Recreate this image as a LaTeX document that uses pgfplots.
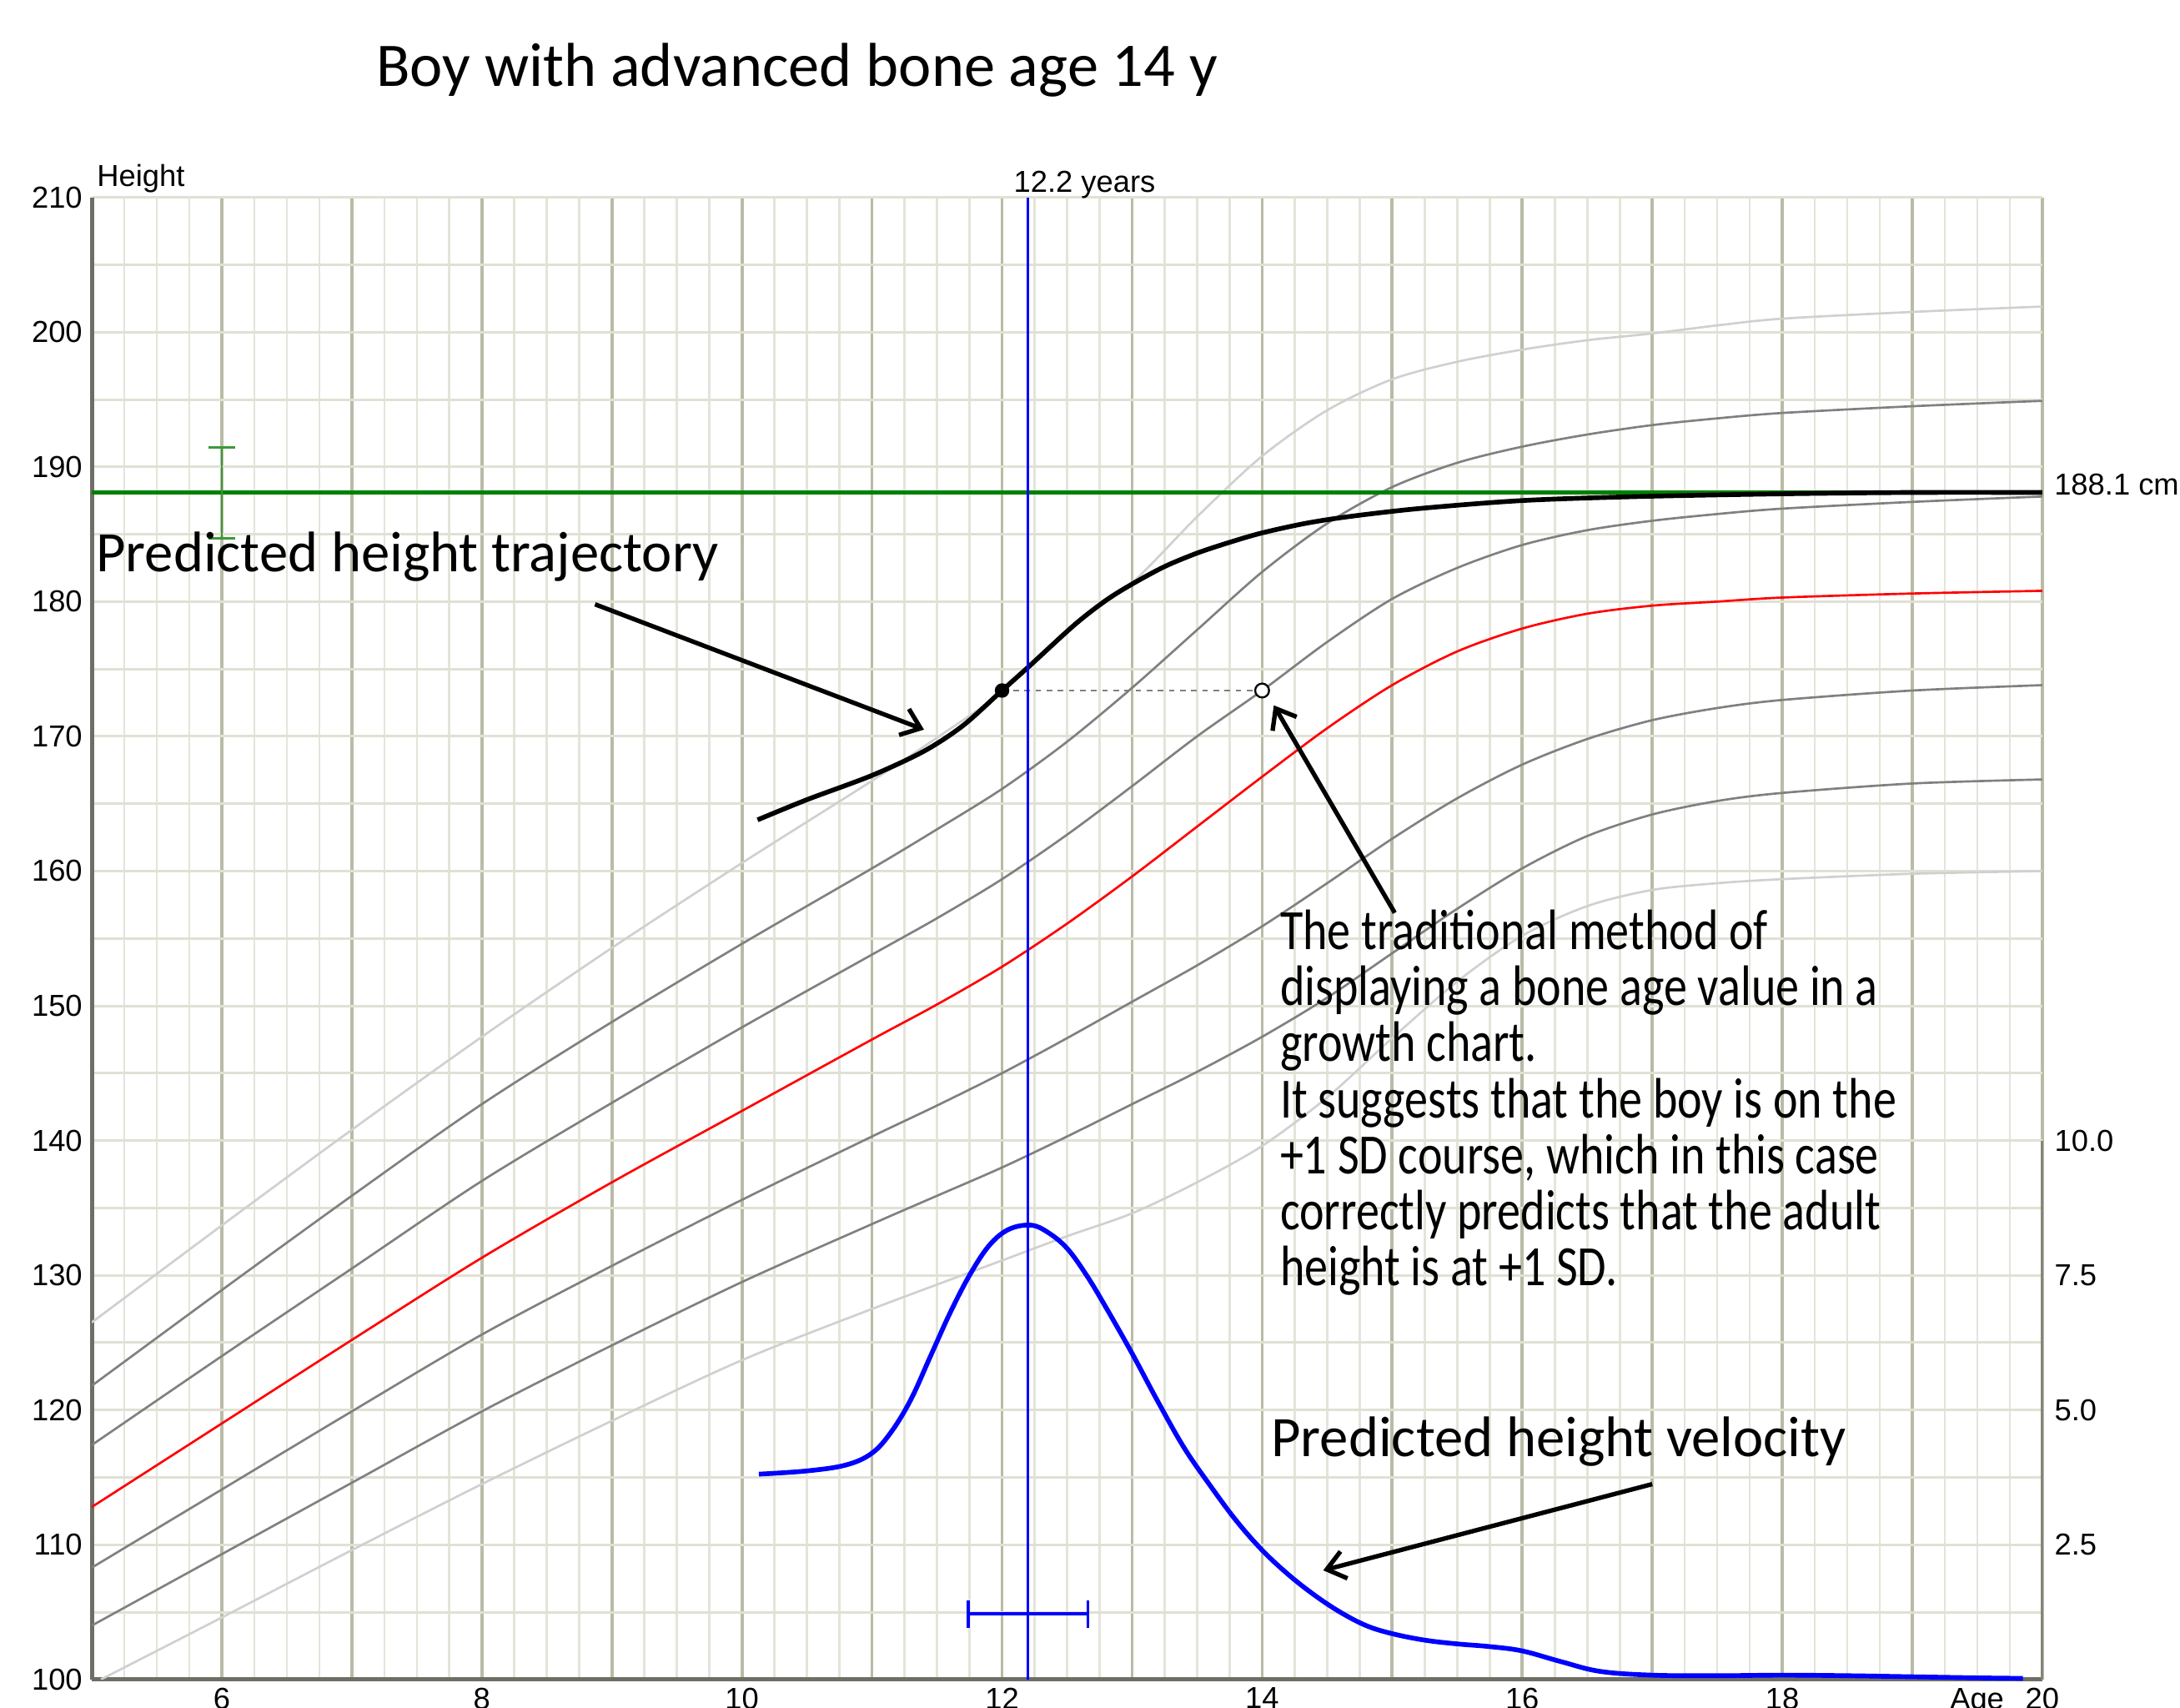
\documentclass[border=0pt]{standalone}
\usepackage{pgfplots}
\pgfplotsset{compat=1.18}
\usepackage{pgfplotstable}
\usepackage{fontspec}
\setmainfont{Carlito}
\newfontfamily\arial{Liberation Sans}
\newfontfamily\condfont{Carlito}[FakeStretch=0.82]
\usetikzlibrary{arrows.meta}
\definecolor{gmaj}{HTML}{BABAA6}
\definecolor{gmin}{HTML}{E4E4DA}
\definecolor{ghor}{HTML}{E0E0D4}
\definecolor{axgray}{HTML}{6E6E66}
\definecolor{sdgray}{HTML}{808080}
\definecolor{sdlight}{HTML}{D0D0D0}
\definecolor{grn}{HTML}{008000}
\definecolor{grnl}{HTML}{3A9A3A}
\tikzset{lab/.style={font=\arial\fontsize{5.45}{6}\selectfont, inner sep=0pt}}

\pgfplotstableread{
x     p3     p2     p1     m0     m1     m2
5     126.5  121.8  117.4  112.8  108.3  104.0
6     133.7  128.9  124.0  119.0  114.1  109.3
7     140.8  135.9  130.5  125.2  119.9  114.6
8     147.7  142.7  137.0  131.3  125.6  119.9
9     154.3  148.8  142.8  136.9  130.7  124.8
10    160.6  154.6  148.4  142.2  135.6  129.5
11    166.7  160.2  153.8  147.5  140.3  133.8
11.5  169.9  163.1  156.5  150.1  142.6  135.9
12    173.3  166.1  159.4  152.9  145.0  138.0
12.5  177.9  169.6  162.7  156.1  147.6  140.3
13    181.4  173.6  166.3  159.6  150.3  142.7
13.5  186.3  177.9  170.0  163.3  153.0  145.1
14    190.8  182.2  173.4  167.0  155.9  147.7
14.5  194.2  185.8  177.0  170.6  159.1  150.6
15    196.5  188.5  180.2  173.8  162.4  153.9
15.5  197.8  190.3  182.5  176.3  165.4  157.2
16    198.7  191.5  184.2  178.0  167.9  160.2
16.5  199.4  192.4  185.3  179.1  169.8  162.6
17    199.9  193.1  186.0  179.7  171.2  164.2
17.5  200.5  193.6  186.5  180.0  172.1  165.2
18    201.0  194.0  186.9  180.3  172.7  165.8
19    201.5  194.5  187.4  180.6  173.4  166.5
20    201.9  194.9  187.8  180.8  173.8  166.8
}\sdtable

\pgfplotstableread{
x     h
5.07  100.0
6     104.6
7     109.6
8     114.5
9     119.2
10    123.7
11    127.5
12    131.1
12.5  132.9
13    134.6
13.5  136.9
14    139.6
14.5  143.2
15    147.6
15.5  151.8
16    155.2
16.5  157.4
17    158.6
17.5  159.1
18    159.4
19    159.8
20    160.0
}\mthree

\pgfplotstableread{
x     h
10.12 163.8
10.5  165.3
11.0  167.1
11.4  168.9
11.7  170.8
12.0  173.4
12.22 175.3
12.56 178.3
12.8  180.1
13.0  181.3
13.25 182.6
13.5  183.6
13.75 184.4
14.0  185.1
14.33 185.8
14.66 186.3
15.2  186.9
16.0  187.5
16.9  187.8
18.0  188.0
19.0  188.1
20.0  188.1
}\traj

\pgfplotstableread{
x     v
10.13 3.81
10.5  3.87
10.8  3.98
11.0  4.20
11.15 4.60
11.3  5.20
11.45 6.00
11.6  6.80
11.75 7.50
11.9  8.05
12.05 8.35
12.22 8.43
12.35 8.30
12.5  8.00
12.65 7.50
12.8  6.90
13.0  6.05
13.2  5.15
13.4  4.30
13.6  3.60
13.8  2.95
14.0  2.40
14.2  1.95
14.4  1.57
14.6  1.25
14.8  1.00
15.0  0.85
15.25 0.73
15.5  0.66
15.75 0.61
16.0  0.53
16.3  0.33
16.6  0.15
17.0  0.08
17.5  0.07
18.0  0.08
18.5  0.07
19.0  0.05
19.5  0.03
19.85 0.02
}\vel

\begin{document}
\begin{tikzpicture}
\pgfplotsset{
  base/.style={width=350.75pt, height=266.5pt, scale only axis,
    at={(0,0)}, anchor=south west, xmin=5, xmax=20,
    major tick length=0pt, minor tick length=0pt},
}
% vertical grid
\begin{axis}[base, ymin=100, ymax=210,
  xtick={5,...,20}, minor x tick num=3, ytick=\empty,
  xticklabels={}, xmajorgrids, xminorgrids,
  major grid style={gmaj, line width=0.55pt},
  minor grid style={gmin, line width=0.4pt},
  axis line style={draw=none}]
\end{axis}
% horizontal grid
\begin{axis}[base, ymin=100, ymax=210,
  xtick=\empty, ytick={100,105,...,210}, yticklabels={},
  ymajorgrids, major grid style={ghor, line width=0.45pt},
  axis line style={draw=none}]
\end{axis}
% main
\begin{axis}[base, ymin=100, ymax=210,
  axis x line*=bottom, axis y line*=left,
  axis line style={axgray, line width=0.75pt},
  xtick={6,8,...,20}, xticklabels={6,8,10,12,14,16,18,20},
  ytick={100,110,...,210},
  yticklabels={100,110,120,130,140,150,160,170,180,190,200,210},
  xticklabel style={lab, anchor=north, yshift=-1.3pt},
  yticklabel style={lab, anchor=east, xshift=-1.5pt},
  clip=true]
  \addplot[sdlight, line width=0.4pt, smooth] table[x=x, y=p3] {\sdtable};
  \addplot[sdgray, line width=0.4pt, smooth] table[x=x, y=p2] {\sdtable};
  \addplot[sdgray, line width=0.4pt, smooth] table[x=x, y=p1] {\sdtable};
  \addplot[red, line width=0.4pt, smooth] table[x=x, y=m0] {\sdtable};
  \addplot[sdgray, line width=0.4pt, smooth] table[x=x, y=m1] {\sdtable};
  \addplot[sdgray, line width=0.4pt, smooth] table[x=x, y=m2] {\sdtable};
  \addplot[sdlight, line width=0.4pt, smooth] table[x=x, y=h] {\mthree};
  % target height
  \addplot[grn, line width=0.65pt] coordinates {(5,188.1) (20,188.1)};
  \addplot[grnl, line width=0.3pt] coordinates {(6,184.7) (6,191.45)};
  \addplot[grnl, line width=0.4pt] coordinates {(5.9,191.45) (6.1,191.45)};
  \addplot[grnl, line width=0.4pt] coordinates {(5.9,184.7) (6.1,184.7)};
  % predicted trajectory
  \addplot[black, line width=0.85pt, smooth] table[x=x, y=h] {\traj};
  % bone-age reading
  \addplot[gray, line width=0.25pt, dash pattern=on 1pt off 1pt] coordinates {(12,173.4) (14,173.4)};
  \addplot[only marks, mark=*, mark size=1.1pt, black] coordinates {(12,173.4)};
  \addplot[only marks, mark=*, mark size=1.25pt, mark options={fill=white, draw=black, line width=0.35pt}] coordinates {(14,173.4)};
  % age line
  \addplot[blue, line width=0.45pt] coordinates {(12.2,100) (12.2,210)};
  % arrows
  \draw[black, line width=0.8pt, -{Straight Barb[length=3.2pt, width=5pt]}] (axis cs:8.87,179.8) -- (axis cs:11.40,170.5);
  \draw[black, line width=0.8pt, -{Straight Barb[length=3.2pt, width=5pt]}] (axis cs:15.02,156.9) -- (axis cs:14.09,172.3);
  \draw[black, line width=0.8pt, -{Straight Barb[length=3.2pt, width=5pt]}] (axis cs:17.0,114.5) -- (axis cs:14.47,108.1);
\end{axis}
% velocity axis
\begin{axis}[base, ymin=0, ymax=27.5,
  axis x line=none, axis y line*=right,
  axis line style={draw=none},
  ytick={2.5,5,7.5,10}, yticklabels={2.5,5.0,7.5,10.0},
  yticklabel style={lab, anchor=west, xshift=2pt},
  clip=false]
  \addplot[axgray!85, line width=0.45pt] coordinates {(20,0) (20,10)};
  \addplot[blue, line width=0.85pt, smooth, tension=0.6] table[x=x, y=v] {\vel};
  \addplot[blue, line width=0.55pt] coordinates {(11.74,1.22) (12.66,1.22)};
  \addplot[blue, line width=0.55pt] coordinates {(11.74,0.96) (11.74,1.47)};
  \addplot[blue, line width=0.55pt] coordinates {(12.66,0.96) (12.66,1.47)};
\end{axis}
% texts
\node[lab, anchor=base west] at (0.75pt,268.5pt) {Height};
\node[lab, anchor=base west] at (165.6pt,267.4pt) {12.2 years};
\node[lab, anchor=base west] at (352.7pt,213.0pt) {188.1 cm};
\node[lab, anchor=north] at (339pt,-1.4pt) {Age};
\node[anchor=base west, inner sep=0pt, font=\fontsize{11.16}{13}\selectfont] at (51pt,286.5pt) {Boy with advanced bone age 14 y};
\node[anchor=base west, inner sep=0pt, font=\fontsize{10.3}{12}\selectfont] at (0.6pt,199.25pt) {Predicted height trajectory};
\node[anchor=base west, inner sep=0pt, font=\fontsize{10.3}{12}\selectfont] at (211.9pt,40.1pt) {Predicted height velocity};
\begin{scope}[every node/.style={anchor=base west, inner sep=0pt, font=\condfont\fontsize{10.25}{12}\selectfont}]
\node at (213.5pt,131.25pt) {The traditional method of};
\node at (213.5pt,121.2pt) {displaying a bone age value in a};
\node at (213.5pt,111.1pt) {growth chart.};
\node at (213.5pt,101.0pt) {It suggests that the boy is on the};
\node at (213.5pt,90.95pt) {+1 SD course, which in this case};
\node at (213.5pt,80.9pt) {correctly predicts that the adult};
\node at (213.5pt,70.8pt) {height is at +1 SD.};
\end{scope}
\pgfresetboundingbox
\path[use as bounding box] (-16.5pt,-5pt) rectangle (375.5pt,302pt);
\end{tikzpicture}
\end{document}
